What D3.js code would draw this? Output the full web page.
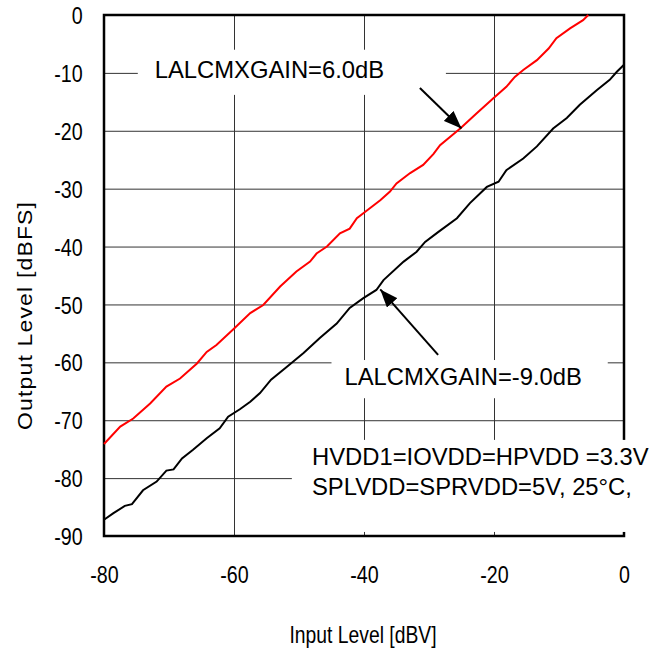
<!DOCTYPE html>
<html>
<head>
<meta charset="utf-8">
<script src="https://cdnjs.cloudflare.com/ajax/libs/d3/7.8.5/d3.min.js"></script>
<style>
  body { margin: 0; background: #fff; }
  svg { font-family: "Liberation Sans", Arial, sans-serif; }
</style>
</head>
<body>
<div id="chart"></div>
<script>
// values (input dBV -> output dBFS)
var redIn = [-80, -77.5, -75.5, -72.9, -70.4, -68.3, -65.7, -64.2, -62.7, -60.1, -57.5, -55.5, -52.9, -50.4,
  -48.3, -47.3, -45.7, -43.7, -42.2, -41.1, -39.8, -37.5, -36.0, -35.0, -32.9, -30.9, -29.3, -28.3, -25.2,
  -22.7, -20.1, -18.1, -16.8, -15.5, -13.4, -11.6, -10.4, -8.3, -6.3, -5.5];
var redOut = [-74.1, -71.1, -69.7, -67.1, -64.2, -62.8, -60.2, -58.2, -57.0, -54.3, -51.5, -50.1, -46.9, -44.3,
  -42.6, -41.2, -40.0, -37.7, -36.9, -35.1, -34.0, -32.0, -30.5, -29.1, -27.3, -25.9, -24.0, -22.5, -19.6,
  -17.0, -14.4, -12.4, -10.7, -9.5, -7.8, -5.8, -4.0, -2.3, -0.9, 0];

var blackIn = [-80, -78.6, -76.8, -75.7, -74.0, -71.9, -70.4, -69.3, -68.0, -66.3, -64.2, -62.2, -60.9, -59.1,
  -57.5, -56.0, -54.3, -51.9, -49.3, -46.8, -44.2, -42.2, -40.1, -38.1, -37.0, -33.9, -31.9, -30.6, -28.6,
  -25.7, -23.7, -21.1, -19.3, -18.1, -15.5, -13.4, -10.9, -8.8, -6.8, -4.2, -2.2, -1.1, 0];
var blackOut = [-87.2, -86.1, -84.8, -84.5, -82.1, -80.6, -78.7, -78.5, -76.6, -75.1, -73.1, -71.4, -69.4, -68.1,
  -66.8, -65.3, -63.0, -60.8, -58.4, -55.8, -53.3, -50.6, -48.9, -47.5, -45.8, -42.6, -40.9, -39.2, -37.5,
  -35.1, -32.5, -29.7, -28.8, -26.8, -24.8, -22.7, -19.6, -17.8, -15.5, -13.0, -11.2, -9.8, -8.6];

var xTicks = [-80, -60, -40, -20, 0];
var yTicks = [0, -10, -20, -30, -40, -50, -60, -70, -80, -90];

var margin = {top: 15, right: 43, bottom: 119, left: 104},
    width = 667 - margin.left - margin.right,
    height = 655 - margin.top - margin.bottom;

var x = d3.scaleLinear().domain([-80, 0]).range([0, width]);
var y = d3.scaleLinear().domain([-90, 0]).range([height, 0]);

var svg = d3.select("#chart").append("svg")
    .attr("width", 667)
    .attr("height", 655);

var defs = svg.append("defs");
defs.append("marker")
    .attr("id", "head")
    .attr("markerUnits", "userSpaceOnUse")
    .attr("viewBox", "0 0 18 14")
    .attr("refX", 18).attr("refY", 7)
    .attr("markerWidth", 18).attr("markerHeight", 14)
    .attr("orient", "auto")
  .append("path")
    .attr("d", "M0,0L18,7L0,14Z")
    .attr("fill", "#000");

var g = svg.append("g")
    .attr("transform", "translate(" + margin.left + "," + margin.top + ")");

// grid
g.append("g")
    .call(d3.axisBottom(x).tickValues(xTicks.slice(1, -1)).tickSize(height).tickFormat(""))
    .call(function(s) { s.select(".domain").remove(); })
    .selectAll("line").attr("stroke", "#333").attr("stroke-width", 1);
g.append("g")
    .call(d3.axisLeft(y).tickValues(yTicks.slice(1, -1)).tickSize(-width).tickFormat(""))
    .call(function(s) { s.select(".domain").remove(); })
    .selectAll("line").attr("stroke", "#333").attr("stroke-width", 1);

// frame
g.append("rect")
    .attr("width", width).attr("height", height)
    .attr("fill", "none").attr("stroke", "#000").attr("stroke-width", 2.5);

// white boxes behind the annotations
var boxes = [
  {x0: -74.8, x1: -27.4, y0: -6.0, y1: -13.8},
  {x0: -45.0, x1: -2.5, y0: -59.6, y1: -66.2},
  {x0: -51.1, x1: 4, y0: -73.4, y1: -89.3}
];
g.selectAll(".box").data(boxes).enter().append("rect")
    .attr("class", "box")
    .attr("x", function(d) { return x(d.x0); })
    .attr("y", function(d) { return y(d.y0); })
    .attr("width", function(d) { return x(d.x1) - x(d.x0); })
    .attr("height", function(d) { return y(d.y1) - y(d.y0); })
    .attr("fill", "#fff");

// curves
var line = d3.line()
    .x(function(d) { return x(d[0]); })
    .y(function(d) { return y(d[1]); });

g.append("path")
    .datum(redIn.map(function(v, i) { return [v, redOut[i]]; }))
    .attr("d", line).attr("fill", "none").attr("stroke", "#ff0000").attr("stroke-width", 2);
g.append("path")
    .datum(blackIn.map(function(v, i) { return [v, blackOut[i]]; }))
    .attr("d", line).attr("fill", "none").attr("stroke", "#000").attr("stroke-width", 2);

// tick labels (narrow face, plain hyphen)
var fmt = function(d) { return String(d); };
var xAx = g.append("g")
    .attr("transform", "translate(0," + height + ")")
    .call(d3.axisBottom(x).tickValues(xTicks).tickSize(0).tickFormat(fmt));
xAx.select(".domain").remove();
xAx.selectAll("text")
    .attr("y", 47).attr("dy", 0)
    .attr("transform", "scale(0.82,1)")
    .attr("font-size", 24).attr("fill", "#000");

var yAx = g.append("g")
    .call(d3.axisLeft(y).tickValues(yTicks).tickSize(0).tickFormat(fmt));
yAx.select(".domain").remove();
yAx.selectAll("text")
    .attr("x", -26).attr("dy", "0.36em")
    .attr("transform", "scale(0.82,1)")
    .attr("font-size", 24).attr("fill", "#000");

// axis titles
svg.append("text")
    .attr("transform", "translate(363,643) scale(0.84,1)")
    .attr("text-anchor", "middle")
    .attr("font-size", 23)
    .text("Input Level [dBV]");
svg.append("text")
    .attr("transform", "translate(32,316) rotate(-90) scale(1,0.9)")
    .attr("text-anchor", "middle")
    .attr("font-size", 23)
    .attr("textLength", 228)
    .attr("lengthAdjust", "spacing")
    .text("Output Level [dBFS]");

// annotations
var notes = [
  {t: "LALCMXGAIN=6.0dB", x: -72.2, y: -10.9},
  {t: "LALCMXGAIN=-9.0dB", x: -43.0, y: -63.9},
  {t: "HVDD1=IOVDD=HPVDD =3.3V", x: -48.0, y: -77.7},
  {t: "SPLVDD=SPRVDD=5V, 25\u00B0C,", x: -48.0, y: -82.9}
];
g.selectAll(".note").data(notes).enter().append("text")
    .attr("class", "note")
    .attr("x", function(d) { return x(d.x); })
    .attr("y", function(d) { return y(d.y); })
    .attr("font-size", 23.8)
    .text(function(d) { return d.t; });

var arrows = [
  {x1: -31.4, y1: -12.6, x2: -25.0, y2: -19.6},
  {x1: -28.6, y1: -58.7, x2: -37.5, y2: -47.4}
];
g.selectAll(".arrow").data(arrows).enter().append("line")
    .attr("class", "arrow")
    .attr("x1", function(d) { return x(d.x1); })
    .attr("y1", function(d) { return y(d.y1); })
    .attr("x2", function(d) { return x(d.x2); })
    .attr("y2", function(d) { return y(d.y2); })
    .attr("stroke", "#000").attr("stroke-width", 2)
    .attr("marker-end", "url(#head)");
</script>
</body>
</html>
